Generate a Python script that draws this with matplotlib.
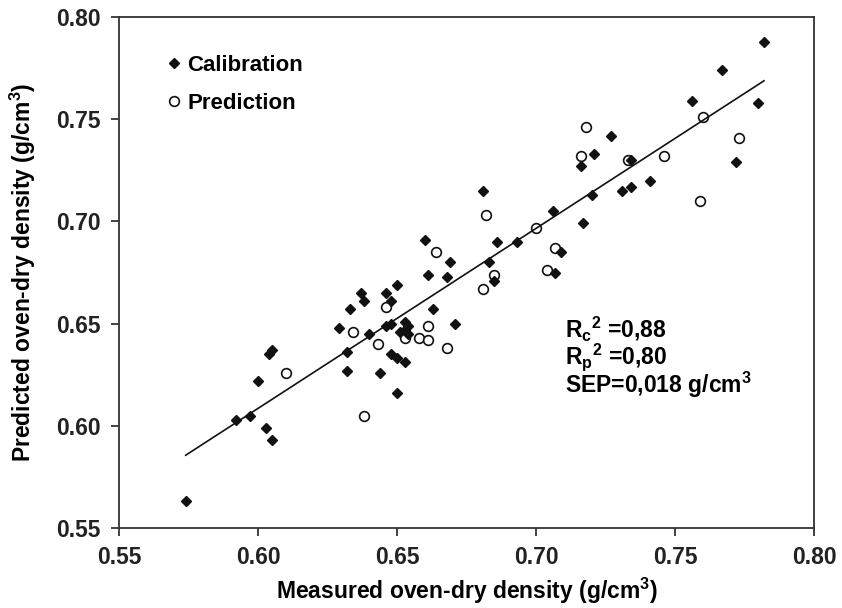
import matplotlib
matplotlib.use("Agg")
import matplotlib.pyplot as plt
import numpy as np

plt.rcParams['font.family'] = ['Liberation Sans', 'DejaVu Sans']
plt.rcParams['font.weight'] = 'bold'
plt.rcParams['mathtext.fontset'] = 'custom'
plt.rcParams['mathtext.rm'] = 'Liberation Sans:bold'
plt.rcParams['mathtext.bf'] = 'Liberation Sans:bold'
plt.rcParams['mathtext.it'] = 'Liberation Sans:bold'

# calibration set (measured, predicted)
cal_x = [0.574, 0.592, 0.597, 0.603, 0.605, 0.600, 0.604, 0.605, 0.632, 0.632,
         0.629, 0.640, 0.633, 0.637, 0.638, 0.646, 0.650, 0.648, 0.646, 0.648,
         0.644, 0.650, 0.653, 0.654, 0.651, 0.654, 0.653, 0.648, 0.650, 0.653,
         0.663, 0.661, 0.668, 0.669, 0.660, 0.671, 0.681, 0.686, 0.683, 0.685,
         0.693, 0.706, 0.717, 0.709, 0.707, 0.720, 0.731, 0.734, 0.716, 0.721,
         0.734, 0.727, 0.741, 0.756, 0.767, 0.782, 0.780, 0.772]
cal_y = [0.563, 0.603, 0.605, 0.599, 0.593, 0.622, 0.635, 0.637, 0.636, 0.627,
         0.648, 0.645, 0.657, 0.665, 0.661, 0.665, 0.669, 0.661, 0.649, 0.650,
         0.626, 0.616, 0.651, 0.649, 0.646, 0.645, 0.647, 0.635, 0.633, 0.631,
         0.657, 0.674, 0.673, 0.680, 0.691, 0.650, 0.715, 0.690, 0.680, 0.671,
         0.690, 0.705, 0.699, 0.685, 0.675, 0.713, 0.715, 0.717, 0.727, 0.733,
         0.730, 0.742, 0.720, 0.759, 0.774, 0.788, 0.758, 0.729]

# prediction set
pred_x = [0.638, 0.610, 0.634, 0.646, 0.643, 0.653, 0.658, 0.661, 0.661, 0.668,
          0.664, 0.682, 0.681, 0.685, 0.700, 0.707, 0.704, 0.716, 0.718, 0.733,
          0.746, 0.760, 0.773, 0.759]
pred_y = [0.605, 0.626, 0.646, 0.658, 0.640, 0.643, 0.643, 0.642, 0.649, 0.638,
          0.685, 0.703, 0.667, 0.674, 0.697, 0.687, 0.676, 0.732, 0.746, 0.730,
          0.732, 0.751, 0.741, 0.710]

# regression line end points
line_x = [0.574, 0.782]
line_y = [0.5856, 0.7688]

ticks = [0.55, 0.60, 0.65, 0.70, 0.75, 0.80]
tick_labels = ['0.55', '0.60', '0.65', '0.70', '0.75', '0.80']

fig = plt.figure(figsize=(8.42, 6.08), dpi=100)
ax = fig.add_axes([0.1413, 0.1316, 0.8255, 0.8404])

ax.plot(pred_x, pred_y, linestyle='none', marker='o', ms=7, mfc='white',
        mec='#111111', mew=1.2, label='Prediction', zorder=2)
ax.plot(cal_x, cal_y, linestyle='none', marker='D', ms=5.6, color='#111111',
        label='Calibration', zorder=3)
ax.plot(line_x, line_y, color='#111111', lw=1.2, zorder=4)

ax.set_xlim(0.55, 0.80)
ax.set_ylim(0.55, 0.80)
ax.set_xticks(ticks)
ax.set_yticks(ticks)
ax.set_xticklabels(tick_labels, fontweight='bold')
ax.set_yticklabels(tick_labels, fontweight='bold')
ax.tick_params(direction='out', length=6, width=1.2, labelsize=16.5, pad=7, colors='#222222')
for s in ax.spines.values():
    s.set_linewidth(1.3)
    s.set_color('#333333')

ax.set_xlabel(r'Measured oven-dry density (g/cm$^{3}$)', fontsize=16.5, fontweight='bold', labelpad=5)
ax.set_ylabel(r'Predicted oven-dry density (g/cm$^{3}$)', fontsize=16.5, fontweight='bold', labelpad=13)

h, l = ax.get_legend_handles_labels()
ax.legend(h[::-1], l[::-1], loc='upper left', bbox_to_anchor=(0.05, 0.943), frameon=False,
          prop={'size': 16, 'weight': 'bold'}, handletextpad=0.1, labelspacing=0.75,
          handlelength=1.0, borderaxespad=0)

ax.text(0.7104, 0.6476, r'R$_\mathrm{c}$$^\mathrm{2}$ =0,88', fontsize=16.5, fontweight='bold', va='center')
ax.text(0.7104, 0.6336, r'R$_\mathrm{p}$$^\mathrm{2}$ =0,80', fontsize=16.5, fontweight='bold', va='center')
ax.text(0.7104, 0.6200, r'SEP=0,018 g/cm$^{3}$', fontsize=16.5, fontweight='bold', va='center')

fig.savefig('out.png', dpi=100)
